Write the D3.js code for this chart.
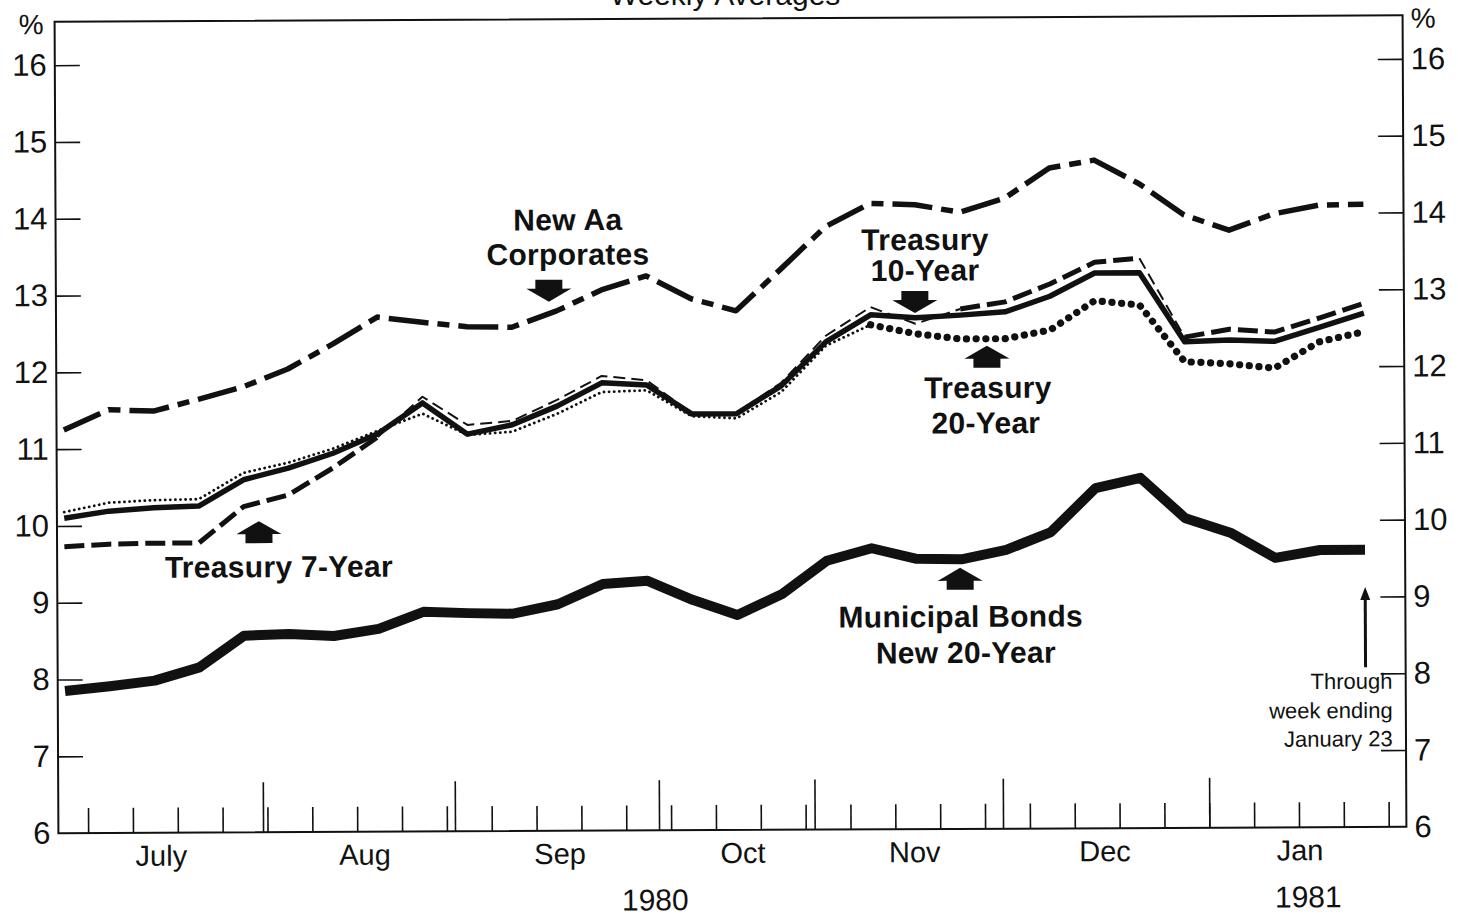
<!DOCTYPE html>
<html>
<head>
<meta charset="utf-8">
<script src="https://cdn.jsdelivr.net/npm/d3@7"></script>
<style>
  html, body { margin: 0; padding: 0; background: #fff; }
  svg { display: block; }
  text { font-family: "Liberation Sans", Arial, Helvetica, sans-serif; fill: #111; }
  .lbl { font-weight: bold; font-size: 30px; letter-spacing: 0.3px; }
  .note { font-size: 22px; }
</style>
</head>
<body>
<svg class="chart"></svg>
<script>
// Weekly averages, week ending (Fridays)
const WEEK_ENDING = [
  "1980-07-04", "1980-07-11", "1980-07-18", "1980-07-25", "1980-08-01", "1980-08-08",
  "1980-08-15", "1980-08-22", "1980-08-29", "1980-09-05", "1980-09-12", "1980-09-19",
  "1980-09-26", "1980-10-03", "1980-10-10", "1980-10-17", "1980-10-24", "1980-10-31",
  "1980-11-07", "1980-11-14", "1980-11-21", "1980-11-28", "1980-12-05", "1980-12-12",
  "1980-12-19", "1980-12-26", "1981-01-02", "1981-01-09", "1981-01-16", "1981-01-23"
];

// yields, %
const CORPORATES  = [11.25, 11.51, 11.49, 11.64, 11.80, 12.03, 12.35, 12.70, 12.63, 12.57, 12.56, 12.77, 13.04, 13.22, 12.92, 12.76, 13.30, 13.85, 14.15, 14.13, 14.03, 14.21, 14.60, 14.70, 14.39, 13.98, 13.78, 13.99, 14.10, 14.11];
const TREASURY_7  = [9.73, 9.76, 9.77, 9.77, 10.24, 10.39, 10.74, 11.14, 11.66, 11.29, 11.34, 11.61, 11.92, 11.86, 11.43, 11.43, 11.82, 12.43, 12.80, 12.58, 12.77, 12.86, 13.09, 13.37, 13.42, 12.39, 12.49, 12.45, 12.63, 12.82];
const TREASURY_10 = [10.10, 10.19, 10.23, 10.25, 10.59, 10.74, 10.93, 11.18, 11.58, 11.17, 11.29, 11.53, 11.83, 11.80, 11.42, 11.42, 11.78, 12.35, 12.70, 12.66, 12.69, 12.73, 12.93, 13.23, 13.23, 12.33, 12.35, 12.33, 12.51, 12.69];
const TREASURY_20 = [10.18, 10.30, 10.33, 10.34, 10.68, 10.81, 10.99, 11.22, 11.44, 11.16, 11.20, 11.43, 11.71, 11.73, 11.39, 11.36, 11.70, 12.30, 12.57, 12.45, 12.38, 12.38, 12.49, 12.87, 12.81, 12.07, 12.04, 11.98, 12.32, 12.45];
const MUNICIPAL   = [7.85, 7.91, 7.98, 8.15, 8.56, 8.58, 8.55, 8.64, 8.86, 8.84, 8.83, 8.95, 9.21, 9.25, 9.00, 8.80, 9.07, 9.50, 9.66, 9.52, 9.51, 9.63, 9.86, 10.43, 10.56, 10.03, 9.84, 9.51, 9.61, 9.61];

// axis stuff
const Y_TICKS = [6, 7, 8, 9, 10, 11, 12, 13, 14, 15, 16];
const MONTHS = ["July", "Aug", "Sep", "Oct", "Nov", "Dec", "Jan"];
const MONTH_POS = [2.13, 6.67, 11.02, 15.10, 18.93, 23.17, 27.52];   // in week units
const MONTH_BREAKS = [4.40, 8.68, 13.23, 16.70, 20.90, 25.5];
const YEARS = ["1980", "1981"];
const YEAR_POS = [13.14, 27.70];

// where the 7 and 20 year lines are drawn thin (they hide behind the 10 year)
const T7_SEGMENTS  = [[0, 7, "thick"], [7, 20, "thin"], [20, 24, "thick"], [24, 25, "thin"], [25, 29, "thick"]];
const T20_SEGMENTS = [[0, 18, "thin"], [18, 29, "thick"]];

// labels, anchored in data units (week, %)
const LABELS = [
  { text: ["New Aa", "Corporates"], x: [11.26, 11.26], y: [13.82, 13.37] },
  { text: ["Treasury", "10-Year"], x: [19.22, 19.22], y: [13.54, 13.14] },
  { text: ["Treasury", "20-Year"], x: [20.61, 20.56], y: [11.61, 11.15] },
  { text: ["Treasury 7-Year"], x: [4.78], y: [9.32] },
  { text: ["Municipal Bonds", "New 20-Year"], x: [19.98, 20.09], y: [8.63, 8.16] },
];
const ARROWS = [
  { x: 10.83, tip: 12.89, dir: "down" },
  { x: 18.99, tip: 12.72, dir: "down" },
  { x: 20.59, tip: 12.29, dir: "up" },
  { x: 4.34,  tip: 10.05, dir: "up" },
  { x: 19.97, tip: 9.40,  dir: "up" },
];
const NOTE_LINES = ["Through", "week ending", "January 23"];
const NOTE_Y = [7.80, 7.42, 7.05];

// ---- chart ----
const FONT = '"Liberation Sans", Arial, Helvetica, sans-serif';
const WIDTH = 1458, HEIGHT = 918;
const PLOT = { left: 56.5, right: 1404.5, top: 18.5, bottom: 830 };

const svg = d3.select(".chart").attr("width", WIDTH).attr("height", HEIGHT);

svg.append("text")
  .attr("x", 725).attr("y", 5)
  .attr("text-anchor", "middle")
  .attr("font-size", 30)
  .text("Weekly Averages");

// the scan is a little skewed
const CHART = svg.append("g").attr("transform", "rotate(-0.27, 730, 425)");

const X_fxn = d3.scaleLinear().domain([0, WEEK_ENDING.length - 1]).range([63.8, 1364.4]);
const Y_fxn = d3.scaleLinear().domain([6, 16]).range([PLOT.bottom, 62]);

CHART.append("rect")
  .attr("x", PLOT.left).attr("y", PLOT.top)
  .attr("width", PLOT.right - PLOT.left).attr("height", PLOT.bottom - PLOT.top)
  .attr("fill", "none").attr("stroke", "#111").attr("stroke-width", 2);

function styleAxis(a) {
  a.attr("font-family", FONT).attr("font-size", 31);
  a.select(".domain").remove();
  a.selectAll(".tick line").attr("stroke", "#111").attr("stroke-width", 1.6);
}

CHART.append("g").attr("transform", `translate(${PLOT.left},0)`)
  .call(d3.axisLeft(Y_fxn).tickValues(Y_TICKS).tickSizeInner(-25).tickSizeOuter(0).tickPadding(8).tickFormat(d3.format("d")))
  .call(styleAxis)
  .call(a => a.selectAll(".tick line").filter(d => d === 6).remove());

CHART.append("g").attr("transform", `translate(${PLOT.right},0)`)
  .call(d3.axisRight(Y_fxn).tickValues(Y_TICKS).tickSizeInner(-25).tickSizeOuter(0).tickPadding(8).tickFormat(d3.format("d")))
  .call(styleAxis)
  .call(a => a.selectAll(".tick line").filter(d => d === 6).remove());

CHART.append("text").attr("x", PLOT.left - 11).attr("y", 31).attr("text-anchor", "end").attr("font-size", 28).text("%");
CHART.append("text").attr("x", PLOT.right + 8).attr("y", 31).attr("font-size", 28).text("%");

// weekly ticks + month ticks
CHART.append("g").attr("transform", `translate(0,${PLOT.bottom})`)
  .call(d3.axisBottom(X_fxn).tickValues(WEEK_ENDING.map((d, i) => i + 0.5)).tickSizeInner(-25).tickSizeOuter(0).tickFormat(""))
  .call(styleAxis);
CHART.append("g").attr("transform", `translate(0,${PLOT.bottom})`)
  .call(d3.axisBottom(X_fxn).tickValues(MONTH_BREAKS).tickSizeInner(-50).tickSizeOuter(0).tickFormat(""))
  .call(styleAxis);

CHART.selectAll(".month").data(MONTHS).join("text")
  .attr("class", "month")
  .attr("x", (d, i) => X_fxn(MONTH_POS[i]))
  .attr("y", 863)
  .attr("text-anchor", "middle")
  .attr("font-size", 29)
  .text(d => d);

CHART.selectAll(".year").data(YEARS).join("text")
  .attr("class", "year")
  .attr("x", (d, i) => X_fxn(YEAR_POS[i]))
  .attr("y", 910)
  .attr("text-anchor", "middle")
  .attr("font-size", 30)
  .text(d => d);

// ---- lines ----
const line_fxn = d3.line()
  .x(d => X_fxn(d.i))
  .y(d => Y_fxn(d.v));

const toPts = arr => arr.map((v, i) => ({ i, v }));

const STYLES = {
  t7thick:  { w: 5,   dash: "20,7", cap: "butt" },
  t7thin:   { w: 2,   dash: "12,6", cap: "butt" },
  t20thick: { w: 7.2, dash: "0.1,9.6", cap: "round" },
  t20thin:  { w: 2.8, dash: "0.1,5", cap: "round" },
};

function drawSegments(values, segments, prefix) {
  const pts = toPts(values);
  segments.forEach(([a, b, kind]) => {
    const s = STYLES[prefix + kind];
    CHART.append("path")
      .datum(pts.slice(a, b + 1))
      .attr("d", line_fxn)
      .attr("fill", "none")
      .attr("stroke", "#111")
      .attr("stroke-width", s.w)
      .attr("stroke-dasharray", s.dash)
      .attr("stroke-linecap", s.cap)
      .attr("stroke-linejoin", "round");
  });
}

drawSegments(TREASURY_7, T7_SEGMENTS, "t7");
drawSegments(TREASURY_20, T20_SEGMENTS, "t20");

CHART.append("path").datum(toPts(TREASURY_10))
  .attr("d", line_fxn).attr("fill", "none")
  .attr("stroke", "#111").attr("stroke-width", 5.5).attr("stroke-linejoin", "round");

CHART.append("path").datum(toPts(MUNICIPAL))
  .attr("d", line_fxn).attr("fill", "none")
  .attr("stroke", "#111").attr("stroke-width", 10).attr("stroke-linejoin", "round");

CHART.append("path").datum(toPts(CORPORATES))
  .attr("d", line_fxn).attr("fill", "none")
  .attr("stroke", "#111").attr("stroke-width", 5.5)
  .attr("stroke-dasharray", "40,9,12,9").attr("stroke-linejoin", "round");

// ---- labels and arrows ----
LABELS.forEach(l => {
  l.text.forEach((t, k) => {
    CHART.append("text").attr("class", "lbl")
      .attr("x", X_fxn(l.x[k])).attr("y", Y_fxn(l.y[k]))
      .attr("text-anchor", "middle")
      .text(t);
  });
});

const ARROW_UP = "M0,0 L22.5,13 L13.5,13 L13.5,22 L-13.5,22 L-13.5,13 L-22.5,13 Z";
ARROWS.forEach(a => {
  CHART.append("path")
    .attr("d", ARROW_UP)
    .attr("fill", "#111")
    .attr("transform", `translate(${X_fxn(a.x)},${Y_fxn(a.tip)})` + (a.dir === "down" ? " scale(1,-1)" : ""));
});

// "through week ending" note with its arrow to the last week
const lastX = X_fxn(WEEK_ENDING.length - 1);
CHART.append("line")
  .attr("x1", lastX).attr("x2", lastX)
  .attr("y1", Y_fxn(8.08)).attr("y2", Y_fxn(9.125) + 10)
  .attr("stroke", "#111").attr("stroke-width", 3);
CHART.append("path")
  .attr("d", "M0,0 L5,13 L-5,13 Z")
  .attr("fill", "#111")
  .attr("transform", `translate(${lastX},${Y_fxn(9.125)})`);

CHART.selectAll(".note").data(NOTE_LINES).join("text")
  .attr("class", "note")
  .attr("x", X_fxn(29.6))
  .attr("y", (d, i) => Y_fxn(NOTE_Y[i]))
  .attr("text-anchor", "end")
  .text(d => d);
</script>
</body>
</html>
